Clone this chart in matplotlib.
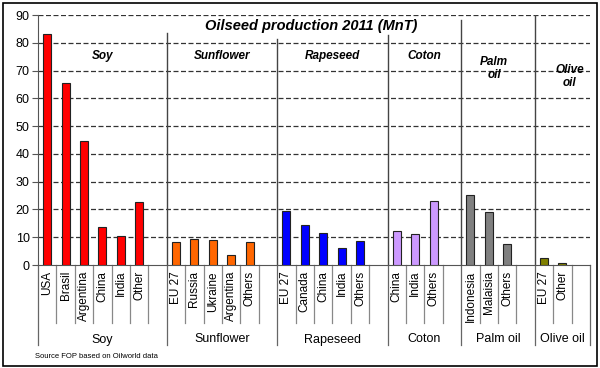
import matplotlib
matplotlib.use("Agg")
import matplotlib.pyplot as plt
from matplotlib.lines import Line2D
from matplotlib.patches import Rectangle
import matplotlib.transforms as mtransforms

plt.rcParams['font.family'] = ['Liberation Sans', 'DejaVu Sans']

groups = ["Soy", "Sunflower", "Rapeseed", "Coton", "Palm oil", "Olive oil"]
group_titles = ["Soy", "Sunflower", "Rapeseed", "Coton", "Palm\noil", "Olive\noil"]
soy_labels = ["USA", "Brasil", "Argentina", "China", "India", "Other"]
soy_values = [83.2, 65.5, 44.8, 13.7, 10.6, 22.8]
sun_labels = ["EU 27", "Russia", "Ukraine", "Argentina", "Others"]
sun_values = [8.3, 9.4, 9.0, 3.6, 8.3]
rape_labels = ["EU 27", "Canada", "China", "India", "Others"]
rape_values = [19.3, 14.5, 11.7, 6.2, 8.5]
coton_labels = ["China", "India", "Others"]
coton_values = [12.1, 11.0, 23.2]
palm_labels = ["Indonesia", "Malaisia", "Others"]
palm_values = [25.3, 19.1, 7.5]
olive_labels = ["EU 27", "Other"]
olive_values = [2.4, 0.6]
colors = ["#FF0000", "#FF6600", "#0000FF", "#CC99FF", "#808080", "#808000"]
sep_tops = [83.5, 81.4, 82.8, 88.2, 90]

all_labels = [soy_labels, sun_labels, rape_labels, coton_labels, palm_labels, olive_labels]
all_values = [soy_values, sun_values, rape_values, coton_values, palm_values, olive_values]

fig = plt.figure(figsize=(6, 3.68), dpi=100)
ax = fig.add_axes([38/600, 1-265/368, 552/600, 250/368])

# figure border
fig.patches.append(Rectangle((3/600, 2/368), 594/600, 363/368, transform=fig.transFigure,
                             fill=False, edgecolor='black', linewidth=1.2))

nslots = sum(len(l) + 1 for l in all_labels)
ax.set_xlim(0, nslots)
ax.set_ylim(0, 90)
ax.set_yticks(range(0, 91, 10))
ax.set_xticks([])
for y in range(10, 91, 10):
    ax.axhline(y, color='#333333', linestyle=(0, (4, 2)), linewidth=0.9, zorder=1)
for s in ['top', 'right']:
    ax.spines[s].set_visible(False)
ax.spines['left'].set_color('#555555')
ax.spines['bottom'].set_color('#555555')
ax.tick_params(axis='y', direction='out', length=4, labelsize=9, color='#555555', pad=2)

trans = mtransforms.blended_transform_factory(ax.transData, ax.transAxes)
pos = 0
for gi, (labs, vals) in enumerate(zip(all_labels, all_values)):
    n = len(labs)
    xs = [pos + i + 0.5 for i in range(n)]
    ax.bar(xs, vals, width=0.43, color=colors[gi], edgecolor='#222222', linewidth=0.8, zorder=3)
    for x, lab in zip(xs, labs):
        ax.text(x, -0.024, lab, rotation=90, ha='center', va='top', fontsize=8.5,
                transform=trans, clip_on=False)
    # category separators in label area
    for k in range(1, n + 1):
        ax.add_line(Line2D([pos + k, pos + k], [0, -0.232], transform=trans,
                           color='#888888', linewidth=0.9, clip_on=False))
    # group boundaries
    ax.add_line(Line2D([pos, pos], [0, -0.32], transform=trans,
                       color='#666666', linewidth=0.9, clip_on=False))
    end = pos + n + 1
    ax.text((pos + end) / 2, -0.298, groups[gi], ha='center', va='center', fontsize=9,
            transform=trans, clip_on=False)
    # title in plot
    if gi < 4:
        ax.text((pos + end) / 2, 75.3, group_titles[gi], ha='center', va='center',
                fontsize=8.5, fontweight='bold', fontstyle='italic', zorder=4)
    elif gi == 4:
        ax.text((pos + end) / 2 - 0.2, 70.9, group_titles[gi], ha='center', va='center',
                fontsize=8.5, fontweight='bold', fontstyle='italic', linespacing=1.1, zorder=4)
    else:
        ax.text((pos + end) / 2 + 0.4, 68.0, group_titles[gi], ha='center', va='center',
                fontsize=8.5, fontweight='bold', fontstyle='italic', linespacing=1.1, zorder=4)
    if gi < len(sep_tops):
        ax.plot([end, end], [0, sep_tops[gi]], color='#444444', linewidth=1.0, zorder=2)
    else:
        ax.add_line(Line2D([end, end], [0, -0.32], transform=trans,
                           color='#666666', linewidth=0.9, clip_on=False))
    pos = end

ax.text(14.85, 86.2, "Oilseed production 2011 (MnT)", ha='center', va='center',
        fontsize=10.5, fontweight='bold', fontstyle='italic', zorder=4)

fig.text(35/600, 1-357/368, "Source FOP based on Oilworld data", fontsize=5.5, ha='left', va='center')

fig.savefig("out.png", dpi=100)
